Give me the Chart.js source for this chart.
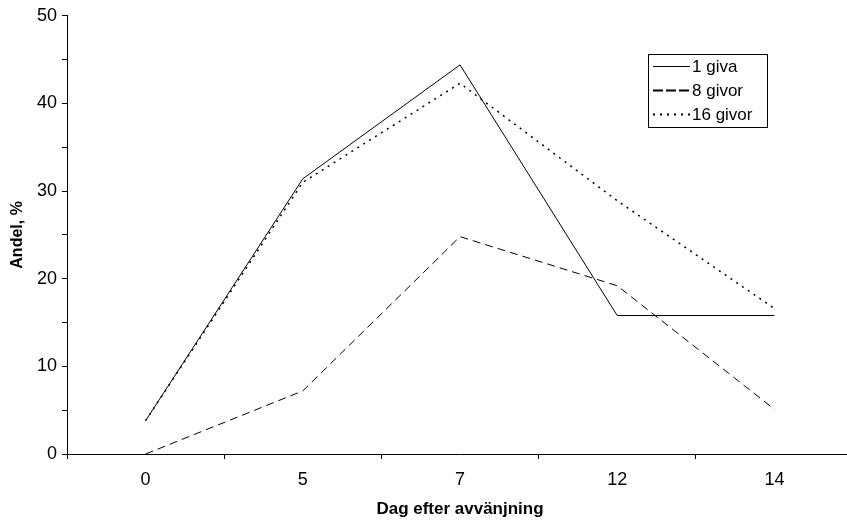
<!DOCTYPE html>
<html>
<head>
<meta charset="utf-8">
<script src="https://cdn.jsdelivr.net/npm/chart.js@4/dist/chart.umd.min.js"></script>
<style>
    html, body { margin: 0; background: #fff; overflow: hidden; }
    #myChart { display: block; }
</style>
</head>
<body>
<!-- canvas is a few px wider than the window so the x axis runs off the right edge -->
<canvas id="myChart" width="853" height="520"></canvas>
<script>
// data block
const days = ['0', '5', '7', '12', '14'];
const seriesNames = ['1 giva', '8 givor', '16 givor'];
const giva1 = [3.8, 31.4, 44.4, 15.8, 15.8];
const givor8 = [0, 7.2, 24.8, 19.2, 5.1];
const givor16 = [3.8, 31.0, 42.3, 28.9, 16.6];

const FONT = "'Liberation Sans', Arial, sans-serif";

const data = {
    labels: days,
    datasets: [{
        label: seriesNames[0],
        data: giva1,
        borderDash: [],
        borderWidth: 1,
        legendDash: []
    }, {
        label: seriesNames[1],
        data: givor8,
        borderDash: [8, 5],
        borderWidth: 1,
        legendDash: [10, 3]
    }, {
        label: seriesNames[2],
        data: givor16,
        borderDash: [2, 5],
        borderWidth: 1.5,
        legendDash: [2, 5]
    }].map(ds => ({
        ...ds,
        borderColor: '#000',
        pointRadius: 0,
        tension: 0,
        fill: false
    }))
};

// boxed legend in the top right corner
const boxLegend = {
    id: 'boxLegend',
    afterDraw(chart, args, options) {
        const {ctx} = chart;
        const {x, y, w, h, rowGap} = options;
        ctx.save();
        ctx.fillStyle = '#fff';
        ctx.fillRect(x, y, w, h);
        ctx.strokeStyle = '#000';
        ctx.lineWidth = 1;
        ctx.strokeRect(x + 0.5, y + 0.5, w, h);

        ctx.font = '17px ' + FONT;
        ctx.textBaseline = 'middle';
        ctx.fillStyle = '#000';
        chart.data.datasets.forEach((ds, i) => {
            const rowY = y + 12.5 + i * rowGap;
            ctx.beginPath();
            ctx.setLineDash(ds.legendDash);
            ctx.lineWidth = ds.legendDash.length ? 2 : 1;
            ctx.moveTo(x + 5, rowY);
            ctx.lineTo(x + 42, rowY);
            ctx.stroke();
            ctx.setLineDash([]);
            ctx.fillText(ds.label, x + 44, rowY + 1);
        });
        ctx.restore();
    }
};

// config block
const config = {
    type: 'line',
    data: data,
    options: {
        responsive: false,
        animation: false,
        layout: {
            padding: {left: 4, top: 15, right: 0, bottom: 0}
        },
        scales: {
            x: {
                offset: true,
                grid: {
                    offset: true,
                    drawOnChartArea: false,
                    drawTicks: true,
                    tickLength: 5,
                    color: '#000'
                },
                border: {display: true, color: '#000', width: 1},
                ticks: {
                    color: '#000',
                    padding: 10,
                    maxRotation: 0,
                    font: {family: FONT, size: 18}
                },
                title: {
                    display: true,
                    text: 'Dag efter avvänjning',
                    color: '#000',
                    padding: {top: 0, bottom: 0},
                    font: {family: FONT, size: 17, weight: 'bold'}
                },
                afterFit: scale => { scale.height = 66; }
            },
            y: {
                min: 0,
                max: 50,
                grid: {
                    drawOnChartArea: false,
                    drawTicks: true,
                    tickLength: 5,
                    color: '#000'
                },
                border: {display: true, color: '#000', width: 1},
                ticks: {
                    stepSize: 5,
                    color: '#000',
                    padding: 5,
                    font: {family: FONT, size: 18},
                    callback: value => value % 10 === 0 ? value : ''
                },
                title: {
                    display: true,
                    text: 'Andel, %',
                    color: '#000',
                    padding: {top: 4, bottom: 0},
                    font: {family: FONT, size: 16, weight: 'bold'}
                },
                afterFit: scale => { scale.width = 63; }
            }
        },
        plugins: {
            legend: {display: false},
            tooltip: {enabled: false},
            boxLegend: {x: 648, y: 54, w: 119, h: 73, rowGap: 24}
        }
    },
    plugins: [boxLegend]
};

// init render block
const myChart = new Chart(
    document.getElementById('myChart'),
    config
);
</script>
</body>
</html>
